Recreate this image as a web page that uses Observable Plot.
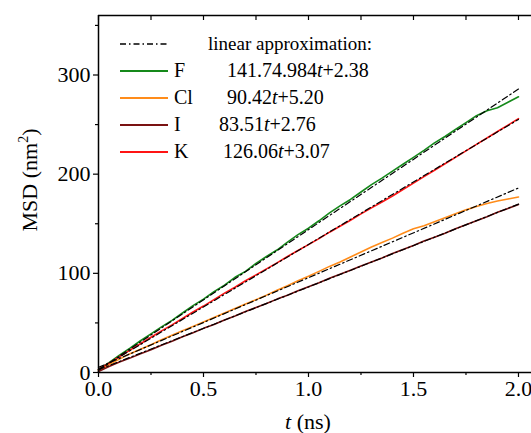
<!DOCTYPE html>
<html><head><meta charset="utf-8">
<script src="https://cdn.jsdelivr.net/npm/d3@7"></script>
<script src="https://cdn.jsdelivr.net/npm/@observablehq/plot@0.6"></script>
<style>
html,body{margin:0;padding:0;background:#fff;}
svg{display:block;}
</style>
</head><body><div id="chart"></div>
<script>
// ---- data ----
const time = [0,0.05,0.1,0.15,0.2,0.25,0.3,0.35,0.4,0.45,0.5,0.55,0.6,0.65,0.7,0.75,0.8,0.85,0.9,0.95,1,1.05,1.1,1.15,1.2,1.25,1.3,1.35,1.4,1.45,1.5,1.55,1.6,1.65,1.7,1.75,1.8,1.85,1.9,1.95,2];
const msdF  = [3,10,17.5,24.5,32,39,46,52.5,60,67.5,74,81.5,88,96,102,110,117,123.5,131.5,139,145.5,153,161,168,174.5,182,189.5,196,203,210,217,224,231.5,238,245,252,259,264,267,272.5,278];
const msdCl = [2,8,13.5,19,23.5,28,33,37.5,42,46.5,51,55.5,60,64.5,69,73.5,78,83,87.5,92.5,97,102,107,111.5,116.5,121.5,126.5,131,135.5,140.5,145,148,152,156,160,164,167.5,170.5,173,175,177];
const msdI  = [1,6,10.5,14.5,19,23,27.5,31.5,36,40,44.5,48.5,53,57,61.5,65.5,69.5,74,78,82.5,86.5,90.5,95,99,103,107.5,111.5,115.5,120,124,128,132.5,136.5,140.5,145,149,153,157,161.5,165.5,169.5];
const msdK  = [3,9.5,16,22.5,29,35.5,42,48,54.5,61,67,73.5,80,86,92.5,98.5,104.5,110.5,117,123,129,135,141.5,147.5,153.5,160,166,172,178,184.5,191,197.5,204,210.5,217,223.5,230,236.5,243,249.5,256];

const ions = ["F","Cl","I","K"];
const ionColors = ["#15891a","#ff8c1a","#7a1212","#ff1414"];
const fitSlopeText = ["141.74.984","90.42","83.51","126.06"];
const fitInterceptText = ["2.38","5.20","2.76","3.07"];
const fitT  = [0, 2.0];
const fitF  = [2.38, 285.86];
const fitCl = [5.20, 186.04];
const fitI  = [2.76, 169.78];
const fitK  = [3.07, 255.19];

const xMajor = [0,0.5,1.0,1.5,2.0];
const xMinor = [0.25,0.75,1.25,1.75];
const yMajor = [0,100,200,300];
const yMinor = [50,150,250,350];

// ---- tables ----
const series = [msdF, msdCl, msdI, msdK];
const fits = [fitF, fitCl, fitI, fitK];
const rows = [];
ions.forEach((ion,i)=>series[i].forEach((v,j)=>rows.push({ion, t: time[j], msd: v})));
const fitRows = [];
ions.forEach((ion,i)=>fitT.forEach((tt,j)=>fitRows.push({ion, t: tt, msd: fits[i][j]})));

const FONT = "'Liberation Serif','Times New Roman',serif";
const dashDot = "6,3,1.5,3";

const plot = Plot.plot({
  width: 531, height: 433,
  marginLeft: 98, marginRight: 0, marginTop: 15, marginBottom: 61,
  style: {fontFamily: FONT, fontSize: "22px", color: "#000", background: "#fff", overflow: "visible"},
  x: {domain: [0, 2.062]},
  y: {domain: [0, 360]},
  color: {domain: ions, range: ionColors},
  marks: [
    Plot.line(rows, {x: "t", y: "msd", z: "ion", stroke: "ion", strokeWidth: 1.6}),
    Plot.line(fitRows, {x: "t", y: "msd", z: "ion", stroke: "#000", strokeWidth: 1.2, strokeDasharray: dashDot}),
    Plot.ruleX([0], {stroke: "#000", strokeWidth: 1.5}),
    Plot.ruleY([0], {stroke: "#000", strokeWidth: 1.5}),
    Plot.ruleY([360], {stroke: "#000", strokeWidth: 1.5}),
    Plot.ruleX(xMajor.concat(xMinor), {stroke: "#000", strokeWidth: 1.2, insetBottom: 352}),
    Plot.axisX(xMajor, {tickSize: 5, tickPadding: 3, tickFormat: d => d.toFixed(1), fontSize: 22, label: null, strokeWidth: 1.2}),
    Plot.axisX(xMinor, {tickSize: 3, tickFormat: () => "", label: null, strokeWidth: 1.2}),
    Plot.axisY(yMajor, {tickSize: 5, tickPadding: 3, fontSize: 22, label: null, strokeWidth: 1.2}),
    Plot.axisY(yMinor, {tickSize: 3, tickFormat: () => "", label: null, strokeWidth: 1.2})
  ]
});
document.getElementById("chart").appendChild(plot);

// ---- axis titles and legend ----
const svg = d3.select(plot);
const g = svg.append("g").attr("font-family", FONT).attr("fill", "#000").attr("text-anchor", "start");

const yl = g.append("text").attr("transform", "translate(37,180) rotate(-90)")
  .attr("text-anchor", "middle").attr("font-size", 22);
yl.append("tspan").text("MSD (nm");
yl.append("tspan").attr("font-size", 14).attr("dy", -9).text("2");
yl.append("tspan").attr("dy", 9).text(")");

const xl = g.append("text").attr("x", 308).attr("y", 429).attr("text-anchor", "middle").attr("font-size", 22);
xl.append("tspan").attr("font-style", "italic").text("t");
xl.append("tspan").text(" (ns)");

// legend
const lx0 = 120, lx1 = 168, rowY0 = 44, rowDy = 27;
g.append("line").attr("x1", lx0).attr("x2", lx1).attr("y1", rowY0).attr("y2", rowY0)
  .attr("stroke", "#000").attr("stroke-width", 1.3).attr("stroke-dasharray", dashDot);
g.append("text").attr("x", 208).attr("y", rowY0 + 6).attr("font-size", 19).attr("text-anchor", "start").text("linear approximation:");
const eqX = [227, 227, 219, 223];
ions.forEach((ion, i) => {
  const y = rowY0 + rowDy * (i + 1);
  g.append("line").attr("x1", lx0).attr("x2", lx1).attr("y1", y).attr("y2", y)
    .attr("stroke", ionColors[i]).attr("stroke-width", 1.8);
  g.append("text").attr("x", 174).attr("y", y + 6).attr("font-size", 20).attr("text-anchor", "start").text(ion);
  const t = g.append("text").attr("x", eqX[i]).attr("y", y + 6).attr("font-size", 20).attr("text-anchor", "start");
  t.append("tspan").text(fitSlopeText[i]);
  t.append("tspan").attr("font-style", "italic").text("t");
  t.append("tspan").text("+" + fitInterceptText[i]);
});
</script>
</body></html>
